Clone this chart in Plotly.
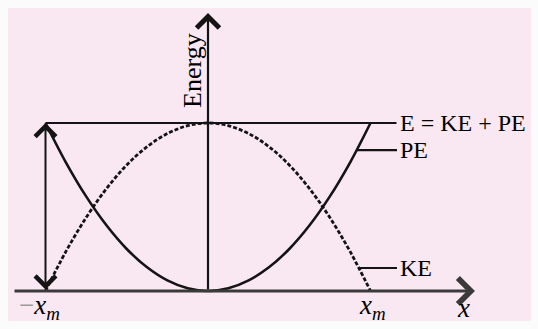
import plotly.graph_objects as go

# ---- data (x in units of x_m, energy in units of E) ----
x_pos = [-1.0, -0.875, -0.75, -0.625, -0.5, -0.375, -0.25, -0.125, 0.0,
         0.125, 0.25, 0.375, 0.5, 0.625, 0.75, 0.875, 1.0]
pe_vals = [1.000, 0.766, 0.563, 0.391, 0.250, 0.141, 0.063, 0.016, 0.000,
           0.016, 0.063, 0.141, 0.250, 0.391, 0.563, 0.766, 1.000]
ke_vals = [0.000, 0.234, 0.437, 0.609, 0.750, 0.859, 0.937, 0.984, 1.000,
           0.984, 0.937, 0.859, 0.750, 0.609, 0.437, 0.234, 0.000]
total_energy = 1.0
e_line_x = [-1.0, 1.16]
pe_leader = {"x": [0.916, 1.163], "y": [0.839, 0.839]}
ke_leader = {"x": [0.929, 1.163], "y": [0.137, 0.137]}
x_axis_extent = [-1.2, 1.643]
y_axis_extent = [0.0, 1.655]
labels = {"total": "E = KE + PE", "pe": "PE", "ke": "KE", "energy": "Energy"}

INK = "#141414"
AXIS = "#3a3a3a"
PINK = "#F9E8F2"
BORDER = "#fbfbfb"
FONT = "Liberation Serif"

fig = go.Figure()

# PE (solid parabola)
fig.add_trace(go.Scatter(x=x_pos, y=pe_vals, mode="lines", line_shape="spline",
                         line=dict(color=INK, width=2.6), hoverinfo="skip"))
# KE (dotted inverted parabola)
fig.add_trace(go.Scatter(x=x_pos, y=ke_vals, mode="lines", line_shape="spline",
                         line=dict(color=INK, width=2.8, dash="4px,2px"), hoverinfo="skip"))
# Total energy line
fig.add_trace(go.Scatter(x=e_line_x, y=[total_energy, total_energy], mode="lines",
                         line=dict(color=INK, width=2.2), hoverinfo="skip"))
# Leader lines
fig.add_trace(go.Scatter(x=pe_leader["x"], y=pe_leader["y"], mode="lines",
                         line=dict(color=INK, width=2.2), hoverinfo="skip"))
fig.add_trace(go.Scatter(x=ke_leader["x"], y=ke_leader["y"], mode="lines",
                         line=dict(color=INK, width=2.2), hoverinfo="skip"))

ann = []
# horizontal axis arrow
ann.append(dict(x=x_axis_extent[1], y=0, ax=x_axis_extent[0], ay=0,
                xref="x", yref="y", axref="x", ayref="y", text="", showarrow=True,
                arrowhead=4, arrowsize=1.8, arrowwidth=2.8, arrowcolor=AXIS))
# vertical axis arrow
ann.append(dict(x=0, y=y_axis_extent[1], ax=0, ay=y_axis_extent[0],
                xref="x", yref="y", axref="x", ayref="y", text="", showarrow=True,
                arrowhead=4, arrowsize=2.0, arrowwidth=2.2, arrowcolor=INK))
# double arrow at -x_m
ann.append(dict(x=-1, y=total_energy, ax=-1, ay=0,
                xref="x", yref="y", axref="x", ayref="y", text="", showarrow=True,
                arrowhead=4, startarrowhead=4, arrowside="end+start",
                arrowsize=2.0, startarrowsize=2.0, arrowwidth=2.0, arrowcolor=INK))

tf = dict(family=FONT, size=24, color="black")
ann.append(dict(x=-0.092, y=1.31, xref="x", yref="y", text=labels["energy"], textangle=-90,
                showarrow=False, font=dict(family=FONT, size=26, color="black"),
                xanchor="center", yanchor="middle"))
ann.append(dict(x=1.17, y=total_energy, xref="x", yref="y", text=labels["total"],
                showarrow=False, font=tf, xanchor="left", yanchor="middle"))
ann.append(dict(x=1.17, y=pe_leader["y"][0], xref="x", yref="y", text=labels["pe"],
                showarrow=False, font=tf, xanchor="left", yanchor="middle"))
ann.append(dict(x=1.17, y=ke_leader["y"][0], xref="x", yref="y", text=labels["ke"],
                showarrow=False, font=tf, xanchor="left", yanchor="middle"))
xf = dict(family=FONT, size=27, color="black")
ann.append(dict(x=-1.034, y=-0.095, xref="x", yref="y",
                text="<span style='color:#9a9a9a'>−</span><i>x</i><sub><i>m</i></sub>",
                showarrow=False, font=xf, xanchor="center", yanchor="middle"))
ann.append(dict(x=1.015, y=-0.095, xref="x", yref="y",
                text="<i>x</i><sub><i>m</i></sub>",
                showarrow=False, font=xf, xanchor="center", yanchor="middle"))
ann.append(dict(x=1.575, y=-0.1, xref="x", yref="y", text="<i>x</i>",
                showarrow=False, font=xf, xanchor="center", yanchor="middle"))

fig.update_layout(
    width=538, height=329,
    margin=dict(l=8, r=7, t=8, b=8),
    paper_bgcolor=BORDER, plot_bgcolor=PINK,
    showlegend=False,
    xaxis=dict(range=[-1.2308, 1.9877], visible=False, fixedrange=True),
    yaxis=dict(range=[-0.1786, 1.6845], visible=False, fixedrange=True),
    annotations=ann,
)

fig.write_html("out.html", config={"displayModeBar": False},
               post_script="document.body.style.margin='0';")
